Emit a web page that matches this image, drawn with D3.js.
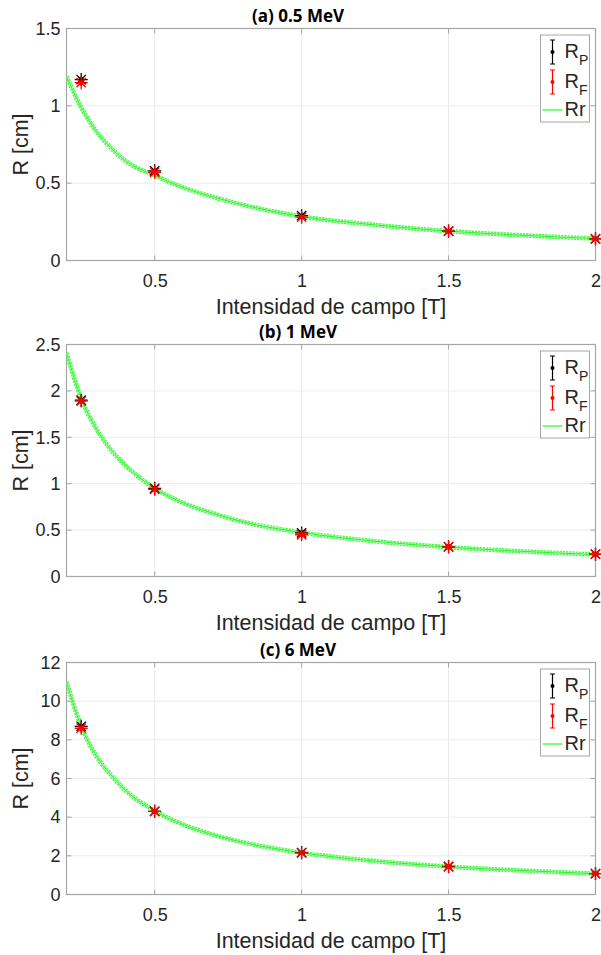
<!DOCTYPE html>
<html>
<head>
<meta charset="utf-8">
<script src="https://cdn.jsdelivr.net/npm/d3@7"></script>
<style>
  html, body { margin: 0; padding: 0; background: #fff; }
  svg { display: block; }
  text { font-family: "Liberation Sans", Arial, Helvetica, sans-serif; fill: #262626; }
</style>
</head>
<body>
<svg id="chart" width="601" height="955"></svg>
<script>
// ---- data ----
const fieldB = [0.25, 0.5, 1, 1.5, 2];
const curveB = [0.2, 0.25, 0.3, 0.35, 0.4, 0.5, 0.6, 0.7, 0.8, 1, 1.25, 1.5, 1.75, 2];

const titles = ["(a) 0.5 MeV", "(b) 1 MeV", "(c) 6 MeV"];

const rpA = [1.17, 0.58, 0.29, 0.19, 0.14];
const rfA = [1.15, 0.57, 0.28, 0.19, 0.14];
const rrA = [1.19, 0.99, 0.84, 0.73, 0.645, 0.55, 0.47, 0.41, 0.36, 0.285, 0.23, 0.19, 0.163, 0.142];

const rpB = [1.90, 0.95, 0.47, 0.32, 0.24];
const rfB = [1.89, 0.94, 0.45, 0.32, 0.24];
const rrB = [2.41, 1.92, 1.60, 1.37, 1.20, 0.95, 0.79, 0.68, 0.59, 0.474, 0.38, 0.316, 0.271, 0.237];

const rpC = [8.7, 4.3, 2.17, 1.45, 1.08];
const rfC = [8.6, 4.3, 2.15, 1.43, 1.08];
const rrC = [11.0, 8.7, 7.2, 6.2, 5.4, 4.33, 3.6, 3.09, 2.7, 2.16, 1.73, 1.44, 1.24, 1.08];

const errA = [0.01, 0.01, 0.01, 0.01, 0.01];
const errB = [0.02, 0.02, 0.02, 0.02, 0.02];
const errC = [0.1, 0.08, 0.06, 0.05, 0.05];

const yMaxes = [1.5, 2.5, 12];
const yTicksA = [0, 0.5, 1, 1.5];
const yTicksB = [0, 0.5, 1, 1.5, 2, 2.5];
const yTicksC = [0, 2, 4, 6, 8, 10, 12];
const xTicks = [0.5, 1, 1.5, 2];
const xDomain = [0.2, 2];

const xLabel = "Intensidad de campo [T]";
const yLabel = "R [cm]";
const legendNames = [["R", "P"], ["R", "F"], ["Rr", ""]];

const panels = [
  { title: titles[0], rp: rpA, rf: rfA, rr: rrA, err: errA, yMax: yMaxes[0], yTicks: yTicksA },
  { title: titles[1], rp: rpB, rf: rfB, rr: rrB, err: errB, yMax: yMaxes[1], yTicks: yTicksB },
  { title: titles[2], rp: rpC, rf: rfC, rr: rrC, err: errC, yMax: yMaxes[2], yTicks: yTicksC }
];

// ---- layout ----
const svg = d3.select("#chart");
const left = 66.5, right = 595.5, plotH = 232;
const tops = [28.5, 344.5, 662.5];
const axisCol = "#a6a6a6", gridCol = "#ebebeb";
const green = "#33ff33";

const x = d3.scaleLinear().domain(xDomain).range([left, right]);

function asterisk(g, cx, cy, color, r) {
  const d = r * 0.72;
  const p = `M${cx - r},${cy}L${cx + r},${cy}M${cx},${cy - r}L${cx},${cy + r}` +
            `M${cx - d},${cy - d}L${cx + d},${cy + d}M${cx - d},${cy + d}L${cx + d},${cy - d}`;
  g.append("path").attr("d", p).attr("stroke", color).attr("stroke-width", 1.3).attr("fill", "none");
}

panels.forEach((p, i) => {
  const top = tops[i], bottom = top + plotH;
  const y = d3.scaleLinear().domain([0, p.yMax]).range([bottom, top]);
  const g = svg.append("g");

  // grid
  g.selectAll(".gx").data(xTicks.filter(t => t < xDomain[1])).enter().append("line")
    .attr("x1", d => x(d)).attr("x2", d => x(d)).attr("y1", top).attr("y2", bottom)
    .attr("stroke", gridCol).attr("stroke-width", 1);
  g.selectAll(".gy").data(p.yTicks.filter(t => t > 0 && t < p.yMax)).enter().append("line")
    .attr("x1", left).attr("x2", right).attr("y1", d => y(d)).attr("y2", d => y(d))
    .attr("stroke", gridCol).attr("stroke-width", 1);

  // axes (d3 axes, restyled)
  const xAxis = d3.axisBottom(x).tickValues(xTicks).tickSize(0).tickPadding(14).tickFormat(d3.format("~g"));
  const gx = g.append("g").attr("transform", `translate(0,${bottom})`).call(xAxis);
  gx.select(".domain").remove();
  gx.selectAll("text").attr("font-size", 18).attr("fill", "#262626")
    .attr("font-family", "Liberation Sans, Arial, sans-serif");

  const yAxis = d3.axisLeft(y).tickValues(p.yTicks).tickSize(0).tickPadding(6).tickFormat(d3.format("~g"));
  const gy = g.append("g").attr("transform", `translate(${left},0)`).call(yAxis);
  gy.select(".domain").remove();
  gy.selectAll("text").attr("font-size", 18).attr("fill", "#262626")
    .attr("font-family", "Liberation Sans, Arial, sans-serif");

  // ticks inside
  g.selectAll(".tx").data(xTicks).enter().append("path")
    .attr("d", d => `M${x(d)},${bottom}v-5M${x(d)},${top}v5`).attr("stroke", axisCol);
  g.selectAll(".ty").data(p.yTicks).enter().append("path")
    .attr("d", d => `M${left},${y(d)}h5M${right},${y(d)}h-5`).attr("stroke", axisCol);

  // box
  g.append("rect").attr("x", left).attr("y", top).attr("width", right - left).attr("height", plotH)
    .attr("fill", "none").attr("stroke", axisCol).attr("stroke-width", 1.2);

  // curve Rr
  const line = d3.line().x((d, k) => x(curveB[k])).y(d => y(d)).curve(d3.curveMonotoneX);
  const clipId = "clip" + i;
  svg.append("clipPath").attr("id", clipId).append("rect")
    .attr("x", left).attr("y", top).attr("width", right - left).attr("height", plotH);
  const cg = g.append("g").attr("clip-path", `url(#${clipId})`);
  cg.append("path").attr("d", line(p.rr)).attr("fill", "none")
    .attr("stroke", "#3dff3d").attr("stroke-width", 4.5).attr("stroke-dasharray", "2.2,1");
  cg.append("path").attr("d", line(p.rr)).attr("fill", "none")
    .attr("stroke", "#c0ffc0").attr("stroke-width", 1.8);
  cg.append("path").attr("d", line(p.rr)).attr("fill", "none")
    .attr("stroke", "#1ee81e").attr("stroke-width", 0.9);

  // error bars + markers
  const mg = g.append("g");
  [[p.rp, "#000000"], [p.rf, "#ff0000"]].forEach(([vals, col]) => {
    vals.forEach((v, k) => {
      const cx = x(fieldB[k]);
      const y1 = y(v - p.err[k]), y2 = y(v + p.err[k]);
      mg.append("path").attr("d", `M${cx},${y1}V${y2}M${cx - 3},${y1}h6M${cx - 3},${y2}h6`)
        .attr("stroke", col).attr("stroke-width", 1);
      asterisk(mg, cx, y(v), col, 6.5);
    });
  });

  // title
  svg.append("text").attr("x", 298).attr("y", top - 7).attr("text-anchor", "middle")
    .attr("font-size", 17).attr("font-weight", "bold").style("font-family", "'Open Sans', 'Liberation Sans', sans-serif")
    .style("fill", "#000").text(p.title);

  // axis labels
  svg.append("text").attr("x", (left + right) / 2).attr("y", bottom + 53).attr("text-anchor", "middle")
    .attr("font-size", 21.5).text(xLabel);
  svg.append("text").attr("transform", `translate(28,${top + plotH / 2}) rotate(-90)`)
    .attr("text-anchor", "middle").attr("font-size", 21.5).text(yLabel);

  // legend
  const lx = right - 55, ly = top + 6.5;
  const lg = svg.append("g");
  lg.append("rect").attr("x", lx).attr("y", ly).attr("width", 49).attr("height", 87)
    .attr("fill", "#fff").attr("stroke", axisCol).attr("stroke-width", 1);
  const rows = [17, 47, 75];
  const cols = ["#000", "#ff0000"];
  [0, 1].forEach(j => {
    const cx = lx + 12, cy = ly + rows[j];
    lg.append("path").attr("d", `M${cx},${cy - 12}V${cy + 12}M${cx - 2.5},${cy - 12}h5M${cx - 2.5},${cy + 12}h5`)
      .attr("stroke", cols[j]).attr("stroke-width", 1.2);
    lg.append("circle").attr("cx", cx).attr("cy", cy).attr("r", 2).attr("fill", cols[j]);
  });
  lg.append("line").attr("x1", lx + 2).attr("x2", lx + 22).attr("y1", ly + rows[2]).attr("y2", ly + rows[2])
    .attr("stroke", green).attr("stroke-width", 1.3);
  legendNames.forEach((nm, j) => {
    const t = lg.append("text").attr("x", lx + 24).attr("y", ly + rows[j] + 6).attr("font-size", 20);
    t.append("tspan").text(nm[0]);
    if (nm[1]) t.append("tspan").attr("font-size", 14).attr("dy", 7).text(nm[1]);
  });
});
</script>
</body>
</html>
